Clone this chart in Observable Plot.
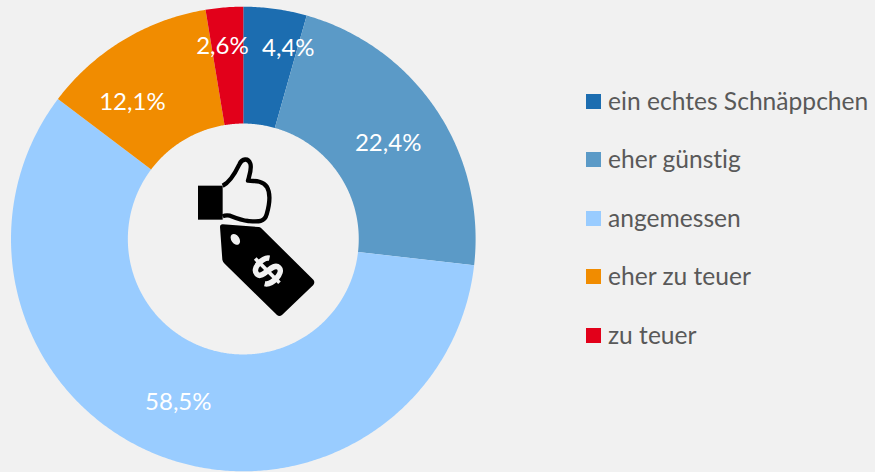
<!DOCTYPE html>
<html lang="de">
<head>
<meta charset="utf-8">
<script src="https://cdn.jsdelivr.net/npm/d3@7"></script>
<script src="https://cdn.jsdelivr.net/npm/@observablehq/plot@0.6"></script>
<style>
  html, body { margin: 0; padding: 0; background: #f1f1f1; width: 875px; height: 472px; overflow: hidden; }
  #wrap { position: relative; width: 875px; height: 472px; font-family: Lato, "Open Sans", sans-serif; font-variant-ligatures: none; }
  #wrap > svg.plot-root { position: absolute; left: 0; top: 0; background: transparent; }
  .leg { position: absolute; left: 586px; height: 24px; color: #595959; font-size: 24.6px; line-height: 24px; white-space: nowrap; padding-left: 22px; }
  .leg i { position: absolute; left: 0; top: 5px; display: block; width: 15px; height: 15px; }
  #icon { position: absolute; left: 180px; top: 145px; }
</style>
</head>
<body>
<div id="wrap"></div>
<script>
const categories = ["ein echtes Schnäppchen", "eher günstig", "angemessen", "eher zu teuer", "zu teuer"];
const shares = [4.4, 22.4, 58.5, 12.1, 2.6];
const shareLabels = ["4,4%", "22,4%", "58,5%", "12,1%", "2,6%"];
const colors = ["#1c6db0", "#5b9ac7", "#99ccff", "#f18c00", "#e2001a"];
const labelAngles = [13.3, 56.6, 201.7, 320.9, 353.8];
const labelRadii = [0.842, 0.747, 0.757, 0.757, 0.833];
const legendTops = [90, 148, 207, 265, 324];
const innerRadius = 0.497;

const polar = (deg, r) => [r * Math.sin(deg * Math.PI / 180), r * Math.cos(deg * Math.PI / 180)];

const slicePoints = [];
let cumulative = 0;
categories.forEach((cat, i) => {
  const a0 = cumulative * 3.6, a1 = (cumulative + shares[i]) * 3.6;
  const n = Math.max(4, Math.ceil((a1 - a0) * 2));
  const ring = [];
  for (let k = 0; k <= n; k++) ring.push(polar(a0 + (a1 - a0) * k / n, 1));
  for (let k = n; k >= 0; k--) ring.push(polar(a0 + (a1 - a0) * k / n, innerRadius));
  ring.forEach(([x, y]) => slicePoints.push({cat, x, y}));
  cumulative += shares[i];
});

const labelData = shareLabels.map((text, i) => {
  const [x, y] = polar(labelAngles[i], labelRadii[i]);
  return {text, x, y};
});

const R = 232.3, cx = 242.8, cy = 238.5;
const chart = Plot.plot({
  width: 875,
  height: 472,
  margin: 0,
  x: {axis: null, domain: [-cx / R, (875 - cx) / R]},
  y: {axis: null, domain: [-(472 - cy) / R, cy / R]},
  color: {type: "ordinal", domain: categories, range: colors},
  style: {background: "transparent", fontFamily: "Lato, 'Open Sans', sans-serif"},
  marks: [
    Plot.line(slicePoints, {x: "x", y: "y", z: "cat", fill: "cat", stroke: "none", curve: "linear-closed"}),
    Plot.text(labelData, {x: "x", y: "y", text: "text", fill: "#ffffff", fontSize: 24})
  ]
});
const wrap = document.getElementById("wrap");
wrap.appendChild(chart);

categories.forEach((cat, i) => {
  const row = document.createElement("div");
  row.className = "leg";
  row.style.top = legendTops[i] - 1 + "px";
  const sw = document.createElement("i");
  sw.style.background = colors[i];
  row.appendChild(sw);
  row.appendChild(document.createTextNode(cat));
  wrap.appendChild(row);
});

wrap.insertAdjacentHTML("beforeend", `
<svg id="icon" width="150" height="180" viewBox="0 0 450 540" xmlns="http://www.w3.org/2000/svg">
  <path d="M54 122 H128 V224 H54 Z" fill="#000"/>
  <path d="M128 122 C150 112 165 85 178 58 C186 40 205 38 211 56 C216 72 208 92 204 107 C222 108 248 106 261 126 C272 145 268 180 260 208 C254 232 235 230 205 228 C185 226 165 218 150 212 C140 210 132 212 128 214"
        fill="none" stroke="#000" stroke-width="13" stroke-linejoin="round"/>
  <path d="M128 238 L236 246 Q240 246 244 250 L400 404 Q406 412 400 420 L306 510 Q298 516 291 510 L134 356 Q128 350 127 344 L120 246 Q120 238 128 238 Z" fill="#000"/>
  <ellipse cx="166" cy="283" rx="12" ry="18" transform="rotate(-35 166 283)" fill="#f1f1f1"/>
  <g transform="translate(262 377) rotate(-45) scale(0.92)" fill="none" stroke="#f1f1f1" stroke-width="18">
    <path d="M34 -24 C22 -42 -32 -42 -32 -16 C-32 12 34 -10 34 20 C34 44 -24 44 -36 24"/>
    <path d="M0 -56 V56" stroke-width="12"/>
  </g>
</svg>`);
</script>
</body>
</html>
